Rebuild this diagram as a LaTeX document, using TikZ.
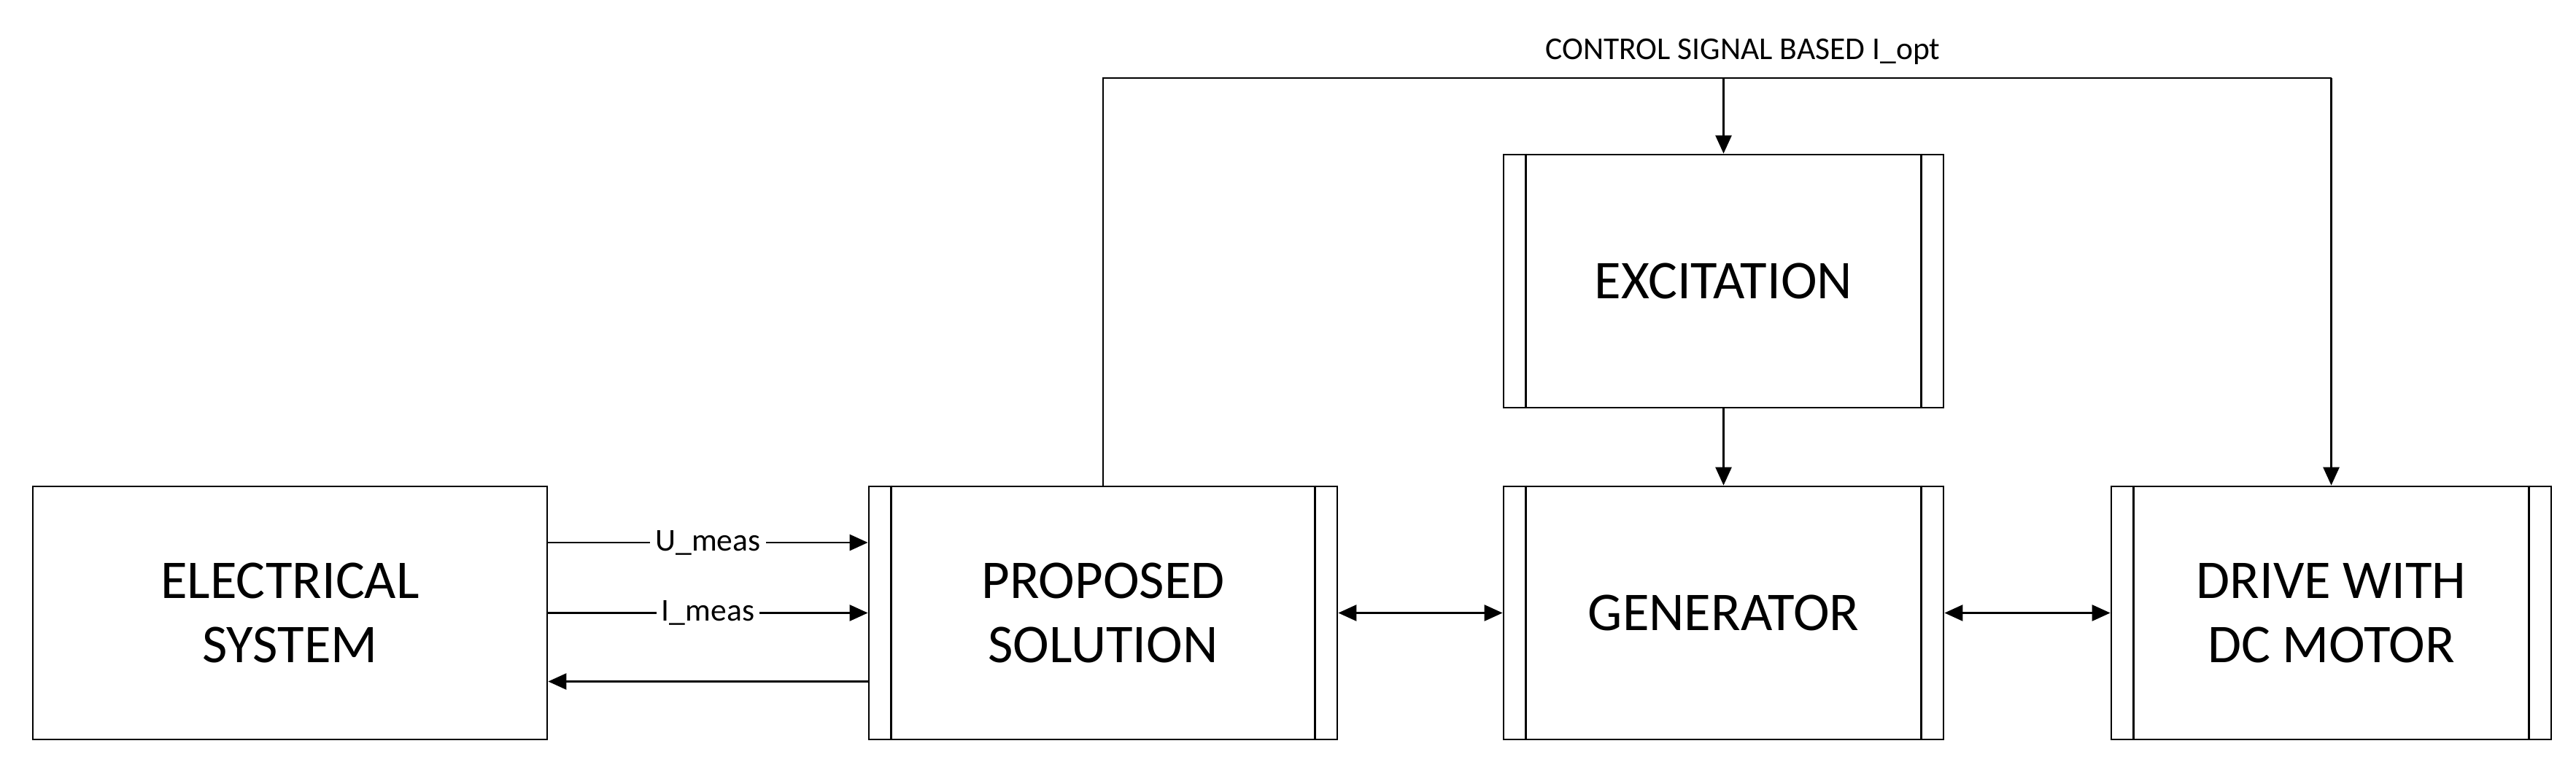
\documentclass[tikz,border=0pt]{standalone}
\usepackage{fontspec}
\setmainfont{Carlito}
\usetikzlibrary{arrows.meta,calc}
\tikzset{
  blk/.style={draw, line width=0.8pt, minimum height=3.47cm, inner sep=0pt, align=center,
    font=\fontsize{21.3}{25}\selectfont},
  lbl/.style={fill=white, inner sep=2pt, font=\fontsize{12.4}{14}\selectfont},
  conn/.style={line width=0.8pt, -{Triangle[length=0.25cm,width=0.22cm]}},
  bconn/.style={line width=0.8pt, {Triangle[length=0.25cm,width=0.22cm]}-{Triangle[length=0.25cm,width=0.22cm]}},
  plain/.style={line width=0.8pt}
}
\begin{document}
\begin{tikzpicture}
\useasboundingbox (0,0) rectangle (35.31,10.59);
\node[blk, minimum width=7.05cm] (es) at (3.975,2.185) {ELECTRICAL\\SYSTEM};
\node[blk, minimum width=6.42cm] (ps) at (15.12,2.185) {PROPOSED\\SOLUTION};
\node[blk, minimum width=6.03cm] (gen) at (23.625,2.185) {GENERATOR};
\node[blk, minimum width=6.03cm] (drv) at (31.955,2.185) {DRIVE WITH\\DC MOTOR};
\node[blk, minimum width=6.03cm] (exc) at (23.625,6.735) {EXCITATION};
% inner side lines of the process boxes
\foreach \n in {ps,gen,drv,exc}{
  \draw[plain] ($(\n.north west)+(0.32,0)$) -- ($(\n.south west)+(0.32,0)$);
  \draw[plain] ($(\n.north east)+(-0.32,0)$) -- ($(\n.south east)+(-0.32,0)$);
}
% measurement signals
\draw[conn] ([yshift=0.965cm]es.east) -- ([yshift=0.965cm]ps.west) node[lbl, midway] {U\_meas};
\draw[conn] (es.east) -- (ps.west) node[lbl, midway] {I\_meas};
\draw[conn] ([yshift=-0.94cm]ps.west) -- ([yshift=-0.94cm]es.east);
% power links
\draw[bconn] (ps.east) -- (gen.west);
\draw[bconn] (gen.east) -- (drv.west);
\draw[conn] (exc.south) -- (gen.north);
% control signal
\coordinate (tl) at (15.12,9.52);
\coordinate (tm) at (23.625,9.52);
\coordinate (tr) at (31.955,9.52);
\draw[plain] (ps.north) -- (tl) -- (tr);
\draw[conn] (tr) -- (drv.north);
\draw[conn] (tm) -- (exc.north);
\node[anchor=base, inner sep=0pt, font=\fontsize{12.4}{14}\selectfont] (ctl) at (23.89,9.77) {CONTROL SIGNAL BASED I\_opt};
\end{tikzpicture}
\end{document}
